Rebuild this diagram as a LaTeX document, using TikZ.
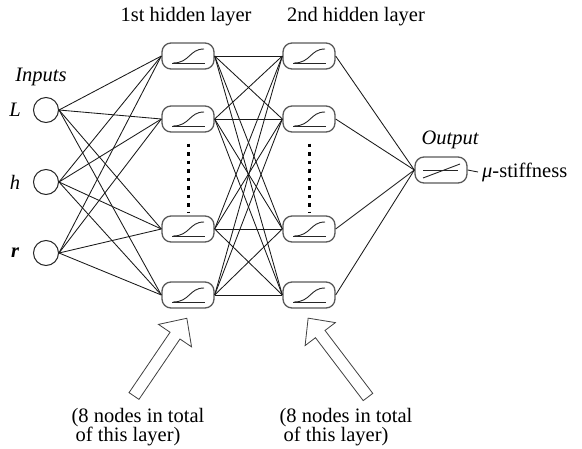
\documentclass[tikz,border=0pt]{standalone}
\usepackage{fontspec}
\setmainfont{Liberation Serif}
\begin{document}
\begin{tikzpicture}[x=1pt,y=-1pt,
  hid/.style={draw=black!65, line width=1.3pt, rounded corners=9pt, minimum width=52pt, minimum height=26pt, inner sep=0pt, fill=white},
  inp/.style={circle, draw=black!85, line width=1pt, minimum size=25pt, inner sep=0pt},
  conn/.style={line width=0.85pt, black!90},
  act/.style={line width=0.9pt, black!85},
  lbl/.style={font=\fontsize{20.5pt}{16.5pt}\selectfont, inner sep=0pt},
  ilbl/.style={font=\fontsize{20.5pt}{16.5pt}\selectfont\itshape, inner sep=0pt},
  hollow/.style={draw=black!75, line width=0.8pt, fill=white},
  dotline/.style={line width=3pt, dash pattern=on 3.5pt off 5pt}]
\useasboundingbox (0,0) rectangle (582,448);

% input nodes
\node[inp] (i1) at (46,110) {};
\node[inp] (i2) at (46,182) {};
\node[inp] (i3) at (46,253) {};
% hidden layers
\foreach \k/\yy in {1/56,2/119,3/229,4/295}{
  \node[hid] (a\k) at (188,\yy) {};
  \node[hid] (b\k) at (309,\yy) {};
}
% output node
\node[hid] (o) at (441,170) {};

% connections
\foreach \i in {1,2,3}
  \foreach \j in {1,...,4}
    \draw[conn] (i\i.east) -- (a\j.west);
\foreach \i in {1,...,4}
  \foreach \j in {1,...,4}
    \draw[conn] (a\i.east) -- (b\j.west);
\foreach \i in {1,...,4}
  \draw[conn] (b\i.east) -- (o.west);

% activation glyphs
\foreach \n in {a1,a2,a3,a4,b1,b2,b3,b4}{
  \draw[act] ([shift={(-16,7.5)}]\n.center) -- ([shift={(17,7.5)}]\n.center);
  \draw[act] ([shift={(-15,7)}]\n.center) .. controls ([shift={(2,7)}]\n.center) and ([shift={(1,-7)}]\n.center) .. ([shift={(16,-7)}]\n.center);
}
\draw[act] ([shift={(-18,0)}]o.center) -- ([shift={(17,0)}]o.center);
\draw[act] ([shift={(-18,8)}]o.center) -- ([shift={(19,-6)}]o.center);

% dotted ellipsis
\draw[dotline] ([yshift=-11pt]a2.south) -- ([yshift=2pt]a3.north);
\draw[dotline] ([yshift=-11pt]b2.south) -- ([yshift=2pt]b3.north);

% labels
\node[ilbl] (tin) at (41,77) {Inputs};
\node[ilbl] (tL) at (15,110) {L};
\node[ilbl] (th) at (15,182) {h};
\node[ilbl, font=\fontsize{20.5pt}{16.5pt}\selectfont\bfseries\itshape] (tr) at (15,253) {r};
\node[lbl] (t1) at (186,17) {1st hidden layer};
\node[lbl] (t2) at (356,17) {2nd hidden layer};
\node[ilbl] (tout) at (450,140) {Output};
\node[lbl, anchor=west] (mu) at (482,172) {\textit{μ}-stiffness};
\draw[conn] (o.east) -- ([xshift=-4pt]mu.west);

% bottom notes
\node[lbl, align=left] (n1) at (138,427) {(8 nodes in total\\\hspace*{4pt}of this layer)};
\node[lbl, align=left] (n2) at (346,427) {(8 nodes in total\\\hspace*{4pt}of this layer)};

% hollow block arrows
\begin{scope}[shift={(134,396)}, rotate=55.8]
  \draw[hollow] (0,-6) -- (73,-6) -- (73,-20) -- (94,0) -- (73,20) -- (73,6) -- (0,6) -- cycle;
\end{scope}
\begin{scope}[shift={(368,397)}, rotate=127.2]
  \draw[hollow] (0,-6) -- (79,-6) -- (79,-19) -- (99,0) -- (79,19) -- (79,6) -- (0,6) -- cycle;
\end{scope}
\end{tikzpicture}
\end{document}
